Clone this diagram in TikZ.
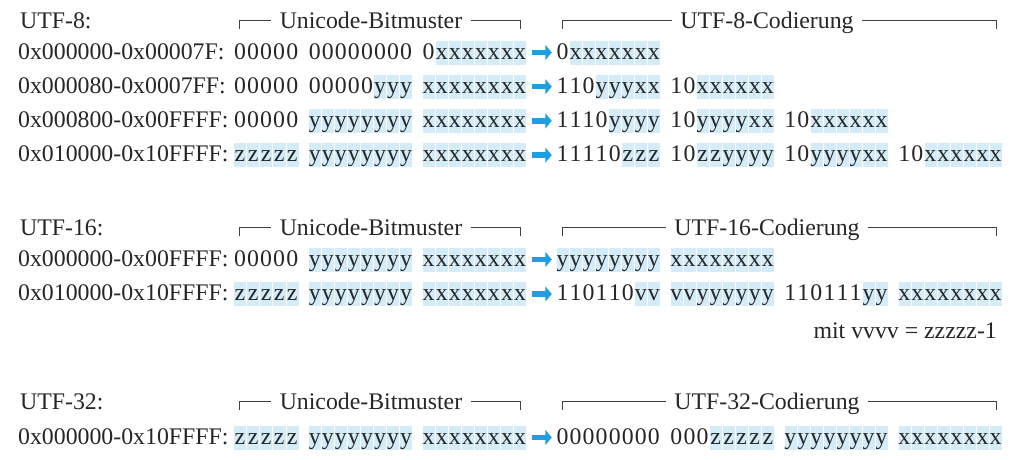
\documentclass[tikz,border=0pt]{standalone}
\usepackage{fontspec}
\setmainfont{Liberation Serif}
\usepackage{tikz}
\usepackage{xcolor}
\usetikzlibrary{arrows.meta}

\definecolor{bitblue}{HTML}{D3ECF8}
\definecolor{pfeilblue}{HTML}{1F9FE3}

% one group of bit cells, letters get the blue background
\newcommand{\bitgroup}[4]{%
  \foreach \c [count=\i] in {#4} {
    \ifcat\c a
      \node[bit, fill=bitblue, draw=white] (#1-\i) at ({#2+(\i-0.5)*13.05}, #3) {\c};
    \else
      \node[bit] (#1-\i) at ({#2+(\i-0.5)*13.05}, #3) {\c};
    \fi
  }%
}

% bracket with title
\newcommand{\klammerpaar}[6]{%
  \node[hdr] (#1) at (#4,#5) {#6};
  \coordinate (#1-l) at (#2,#5);
  \coordinate (#1-r) at (#3,#5);
  \draw[klammer] ([yshift=-8.5pt]#1-l) -- (#1-l) -- (#1.west);
  \draw[klammer] (#1.east) -- (#1-r) -- ([yshift=-8.5pt]#1-r);
}

\begin{document}
\begin{tikzpicture}[x=1pt, y=-1pt, color=black!85, font=\fontsize{23.8}{26}\selectfont,
  bit/.style={inner sep=0pt, minimum width=13.05pt, text height=19pt, text depth=6pt},
  lbl/.style={inner sep=0pt, anchor=west, text height=19pt, text depth=6pt},
  hdr/.style={inner xsep=8.3pt, inner ysep=0pt, text height=17pt, text depth=2pt},
  klammer/.style={line width=0.8pt, black!75},
  pfeil/.style={pfeilblue, line width=5.5pt, -{Triangle[length=6.5pt, width=15pt]}, shorten <=5.5pt, shorten >=4pt}]

\useasboundingbox (0,0) rectangle (1015,459);

% UTF-8
\node[lbl] (u8) at (20,21.5) {UTF-8:};
\klammerpaar{u8in}{239}{520}{371}{20.7}{Unicode-Bitmuster}
\klammerpaar{u8out}{562}{996}{767}{20.7}{UTF-8-Codierung}

\node[lbl] (u8a) at (18,52.5) {0x000000-0x00007F:};
\bitgroup{u8a-i1}{233.5}{52.5}{0,0,0,0,0}
\bitgroup{u8a-i2}{308.25}{52.5}{0,0,0,0,0,0,0,0}
\bitgroup{u8a-i3}{422.15}{52.5}{0,x,x,x,x,x,x,x}
\bitgroup{u8a-o1}{556}{52.5}{0,x,x,x,x,x,x,x}
\draw[pfeil] (u8a-i3-8.east) -- (u8a-o1-1.west);

\node[lbl] (u8b) at (18,86.7) {0x000080-0x0007FF:};
\bitgroup{u8b-i1}{233.5}{86.7}{0,0,0,0,0}
\bitgroup{u8b-i2}{308.25}{86.7}{0,0,0,0,0,y,y,y}
\bitgroup{u8b-i3}{422.15}{86.7}{x,x,x,x,x,x,x,x}
\bitgroup{u8b-o1}{556}{86.7}{1,1,0,y,y,y,x,x}
\bitgroup{u8b-o2}{669.9}{86.7}{1,0,x,x,x,x,x,x}
\draw[pfeil] (u8b-i3-8.east) -- (u8b-o1-1.west);

\node[lbl] (u8c) at (18,120.9) {0x000800-0x00FFFF:};
\bitgroup{u8c-i1}{233.5}{120.9}{0,0,0,0,0}
\bitgroup{u8c-i2}{308.25}{120.9}{y,y,y,y,y,y,y,y}
\bitgroup{u8c-i3}{422.15}{120.9}{x,x,x,x,x,x,x,x}
\bitgroup{u8c-o1}{556}{120.9}{1,1,1,0,y,y,y,y}
\bitgroup{u8c-o2}{669.9}{120.9}{1,0,y,y,y,y,x,x}
\bitgroup{u8c-o3}{783.8}{120.9}{1,0,x,x,x,x,x,x}
\draw[pfeil] (u8c-i3-8.east) -- (u8c-o1-1.west);

\node[lbl] (u8d) at (18,155.1) {0x010000-0x10FFFF:};
\bitgroup{u8d-i1}{233.5}{155.1}{z,z,z,z,z}
\bitgroup{u8d-i2}{308.25}{155.1}{y,y,y,y,y,y,y,y}
\bitgroup{u8d-i3}{422.15}{155.1}{x,x,x,x,x,x,x,x}
\bitgroup{u8d-o1}{556}{155.1}{1,1,1,1,0,z,z,z}
\bitgroup{u8d-o2}{669.9}{155.1}{1,0,z,z,y,y,y,y}
\bitgroup{u8d-o3}{783.8}{155.1}{1,0,y,y,y,y,x,x}
\bitgroup{u8d-o4}{897.7}{155.1}{1,0,x,x,x,x,x,x}
\draw[pfeil] (u8d-i3-8.east) -- (u8d-o1-1.west);

% UTF-16
\node[lbl] (u16) at (20,228.5) {UTF-16:};
\klammerpaar{u16in}{239}{520}{371}{227.5}{Unicode-Bitmuster}
\klammerpaar{u16out}{562}{996}{767}{227.5}{UTF-16-Codierung}

\node[lbl] (u16a) at (18,259.5) {0x000000-0x00FFFF:};
\bitgroup{u16a-i1}{233.5}{259.5}{0,0,0,0,0}
\bitgroup{u16a-i2}{308.25}{259.5}{y,y,y,y,y,y,y,y}
\bitgroup{u16a-i3}{422.15}{259.5}{x,x,x,x,x,x,x,x}
\bitgroup{u16a-o1}{556}{259.5}{y,y,y,y,y,y,y,y}
\bitgroup{u16a-o2}{669.9}{259.5}{x,x,x,x,x,x,x,x}
\draw[pfeil] (u16a-i3-8.east) -- (u16a-o1-1.west);

\node[lbl] (u16b) at (18,294) {0x010000-0x10FFFF:};
\bitgroup{u16b-i1}{233.5}{294}{z,z,z,z,z}
\bitgroup{u16b-i2}{308.25}{294}{y,y,y,y,y,y,y,y}
\bitgroup{u16b-i3}{422.15}{294}{x,x,x,x,x,x,x,x}
\bitgroup{u16b-o1}{556}{294}{1,1,0,1,1,0,v,v}
\bitgroup{u16b-o2}{669.9}{294}{v,v,y,y,y,y,y,y}
\bitgroup{u16b-o3}{783.8}{294}{1,1,0,1,1,1,y,y}
\bitgroup{u16b-o4}{897.7}{294}{x,x,x,x,x,x,x,x}
\draw[pfeil] (u16b-i3-8.east) -- (u16b-o1-1.west);

\node[lbl, anchor=east] (u16note) at (997,331.5) {mit vvvv = zzzzz-1};

% UTF-32
\node[lbl] (u32) at (20,402.5) {UTF-32:};
\klammerpaar{u32in}{239}{520}{371}{401.7}{Unicode-Bitmuster}
\klammerpaar{u32out}{562}{996}{767}{401.7}{UTF-32-Codierung}

\node[lbl] (u32a) at (18,437.5) {0x000000-0x10FFFF:};
\bitgroup{u32a-i1}{233.5}{437.5}{z,z,z,z,z}
\bitgroup{u32a-i2}{308.25}{437.5}{y,y,y,y,y,y,y,y}
\bitgroup{u32a-i3}{422.15}{437.5}{x,x,x,x,x,x,x,x}
\bitgroup{u32a-o1}{556}{437.5}{0,0,0,0,0,0,0,0}
\bitgroup{u32a-o2}{669.9}{437.5}{0,0,0,z,z,z,z,z}
\bitgroup{u32a-o3}{783.8}{437.5}{y,y,y,y,y,y,y,y}
\bitgroup{u32a-o4}{897.7}{437.5}{x,x,x,x,x,x,x,x}
\draw[pfeil] (u32a-i3-8.east) -- (u32a-o1-1.west);

\end{tikzpicture}
\end{document}
